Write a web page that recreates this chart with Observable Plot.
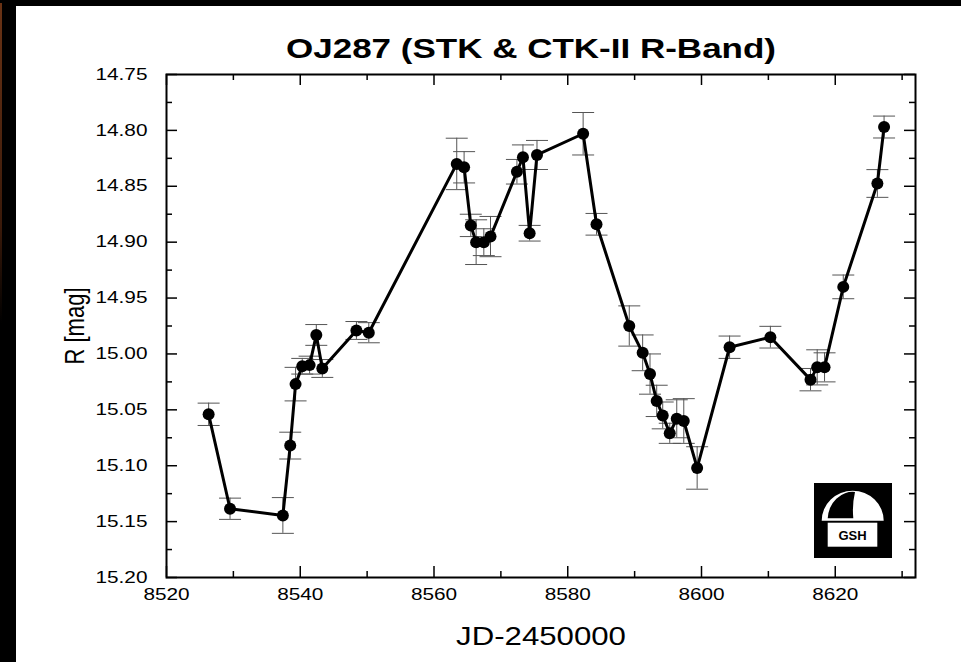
<!DOCTYPE html>
<html>
<head>
<meta charset="utf-8">
<script src="https://cdn.jsdelivr.net/npm/d3@7"></script>
<script src="https://cdn.jsdelivr.net/npm/@observablehq/plot@0.6"></script>
<style>
  html, body { margin: 0; padding: 0; background: #fff; overflow: hidden; }
  #topbar { position: fixed; left: 0; top: 0; right: 0; height: 6px; background: #000; }
  #leftbar { position: fixed; left: 0; top: 0; bottom: 0; width: 16px; background: #000; }
  #edge { position: fixed; left: 0; top: 3px; width: 2px; height: 320px;
    background: linear-gradient(#6a3315, #3a1a0a 70%, #000); }
  #page { position: absolute; left: 16px; top: 6px; width: 945px; height: 656px; background: #fff; }
  #title { position: relative; height: 60px; }
  #title span {
    position: absolute; left: 515px; top: 29px; display: inline-block; white-space: nowrap;
    font-family: "Liberation Sans", Arial, sans-serif; font-weight: bold; font-size: 28px; line-height: 28px;
    transform: translateX(-50%) scaleX(1.25); transform-origin: center;
  }
  #chart { height: 596px; }
  #chart svg { display: block; }
</style>
</head>
<body>
<div id="topbar"></div>
<div id="leftbar"></div>
<div id="edge"></div>
<div id="page">
  <div id="title"><span>OJ287 (STK &amp; CTK-II R-Band)</span></div>
  <div id="chart"></div>
</div>
<script>
// Observation epochs (JD-2450000), R magnitudes and their errors
const jd = [8526.3, 8529.5, 8537.4, 8538.5, 8539.3, 8540.3, 8541.4, 8542.4, 8543.3, 8548.4,
            8550.25, 8563.4, 8564.5, 8565.5, 8566.3, 8567.45, 8568.45, 8572.4, 8573.3, 8574.3,
            8575.4, 8582.3, 8584.3, 8589.2, 8591.2, 8592.3, 8593.3, 8594.2, 8595.25, 8596.3,
            8597.35, 8599.35, 8604.2, 8610.3, 8616.3, 8617.3, 8618.4, 8621.2, 8626.3, 8627.3];
const mag = [15.054, 15.1385, 15.1445, 15.082, 15.027, 15.011, 15.010, 14.983, 15.013, 14.979,
             14.981, 14.830, 14.833, 14.885, 14.900, 14.900, 14.895, 14.837, 14.824, 14.892,
             14.822, 14.803, 14.884, 14.975, 14.999, 15.018, 15.042, 15.055, 15.071, 15.058,
             15.060, 15.102, 14.994, 14.985, 15.023, 15.012, 15.012, 14.940, 14.8475, 14.797];
const err = [0.010, 0.0095, 0.016, 0.012, 0.015, 0.007, 0.008, 0.0093, 0.008, 0.008,
             0.009, 0.023, 0.014, 0.010, 0.020, 0.012, 0.018, 0.011, 0.011, 0.007,
             0.013, 0.019, 0.0097, 0.018, 0.016, 0.018, 0.014, 0.012, 0.009, 0.017,
             0.020, 0.019, 0.010, 0.0097, 0.010, 0.0157, 0.013, 0.0106, 0.0124, 0.0098];

// Axis ticks
const xDomain = [8520, 8632];
const yDomain = [14.75, 15.20];
const xMajor = [8520, 8540, 8560, 8580, 8600, 8620];
const xMinor = [8530, 8550, 8570, 8590, 8610, 8630];
const yMajor = [14.75, 14.80, 14.85, 14.90, 14.95, 15.00, 15.05, 15.10, 15.15, 15.20];
const yMinor = [14.775, 14.825, 14.875, 14.925, 14.975, 15.025, 15.075, 15.125, 15.175];

const xLabel = "JD-2450000";
const yLabel = "R [mag]";

const data = jd.map((x, i) => ({x, y: mag[i], lo: mag[i] - err[i], hi: mag[i] + err[i]}));

const W = 945, H = 596, mL = 150, mR = 46, mT = 8, mB = 85;
const fw = W - mL - mR, fh = H - mT - mB;
const majorLen = 11, minorLen = 6;

const capSymbol = {
  draw(context, size) {
    const r = Math.sqrt(size / Math.PI);
    context.moveTo(-r, 0);
    context.lineTo(r, 0);
  }
};

const tickStyle = {stroke: "#000", strokeWidth: 1.5};

const plot = Plot.plot({
  width: W, height: H,
  marginLeft: mL, marginRight: mR, marginTop: mT, marginBottom: mB,
  style: {fontFamily: "'Liberation Sans', Arial, sans-serif", fontSize: "16px", background: "#fff", color: "#000"},
  x: {domain: xDomain},
  y: {domain: yDomain, reverse: true},
  marks: [
    // inward ticks: bottom, top, left, right
    Plot.ruleX(xMajor, {x: d => d, insetTop: fh - majorLen, ...tickStyle}),
    Plot.ruleX(xMinor, {x: d => d, insetTop: fh - minorLen, ...tickStyle}),
    Plot.ruleX(xMajor, {x: d => d, insetBottom: fh - majorLen, ...tickStyle}),
    Plot.ruleX(xMinor, {x: d => d, insetBottom: fh - minorLen, ...tickStyle}),
    Plot.ruleY(yMajor, {y: d => d, insetRight: fw - majorLen, ...tickStyle}),
    Plot.ruleY(yMinor, {y: d => d, insetRight: fw - minorLen, ...tickStyle}),
    Plot.ruleY(yMajor, {y: d => d, insetLeft: fw - majorLen, ...tickStyle}),
    Plot.ruleY(yMinor, {y: d => d, insetLeft: fw - minorLen, ...tickStyle}),
    Plot.axisX({ticks: xMajor, tickSize: 0, tickPadding: 11, fontSize: 16, tickFormat: d => String(d), label: null}),
    Plot.axisY({ticks: yMajor, tickSize: 0, tickPadding: 19, fontSize: 16, tickFormat: d => d.toFixed(2), label: null}),
    // error bars
    Plot.ruleX(data, {x: "x", y1: "lo", y2: "hi", stroke: "#555", strokeWidth: 1}),
    Plot.dot(data, {x: "x", y: "lo", symbol: capSymbol, r: 11, stroke: "#555", strokeWidth: 1, fill: "none"}),
    Plot.dot(data, {x: "x", y: "hi", symbol: capSymbol, r: 11, stroke: "#555", strokeWidth: 1, fill: "none"}),
    // light curve
    Plot.line(data, {x: "x", y: "y", stroke: "#000", strokeWidth: 3}),
    Plot.dot(data, {x: "x", y: "y", r: 6, fill: "#000", stroke: "none"}),
    Plot.frame({stroke: "#000", strokeWidth: 2}),
    // axis titles
    Plot.text([xLabel], {text: d => d, frameAnchor: "bottom", dy: 59, fontSize: 26, textAnchor: "middle", lineAnchor: "middle"}),
    Plot.text([yLabel], {text: d => d, frameAnchor: "left", dx: -91, rotate: -90, fontSize: 22, textAnchor: "middle", lineAnchor: "middle"})
  ]
});

document.getElementById("chart").appendChild(plot);

// widen glyphs like the original export
function stretchEl(t, sx, sy) {
  const tr = t.getAttribute("transform") || "";
  t.setAttribute("transform", (tr + ` scale(${sx},${sy})`).trim());
}
plot.querySelectorAll('g[aria-label="x-axis tick label"] text, g[aria-label="y-axis tick label"] text')
  .forEach(t => stretchEl(t, 1.3, 1));
plot.querySelectorAll("text").forEach(t => {
  if (t.textContent === xLabel) stretchEl(t, 1.2, 1);
  else if (t.textContent === yLabel) stretchEl(t, 1, 1.25);
});

// observatory logo in the lower-right corner of the frame
const ns = "http://www.w3.org/2000/svg";
const logo = document.createElementNS(ns, "g");
const lx = W - mR - 23 - 78, ly = H - mB - 19 - 75;
logo.setAttribute("transform", `translate(${lx},${ly})`);
logo.innerHTML = `
  <rect x="0" y="0" width="78" height="75" fill="#000"/>
  <path d="M7.7,37.7 A31,30 0 0 1 69.7,37.7 Z" fill="#fff"/>
  <path d="M13.7,35.3 A25,28 0 0 1 41,9 Q38,22 39.3,35.3 Z" fill="#000"/>
  <rect x="13.7" y="39.7" width="49.6" height="24" fill="#fff"/>
  <text x="38.5" y="52" text-anchor="middle" dominant-baseline="central" font-family="'Liberation Sans', Arial, sans-serif" font-weight="bold" font-size="13" fill="#000">GSH</text>`;
plot.appendChild(logo);
</script>
</body>
</html>
